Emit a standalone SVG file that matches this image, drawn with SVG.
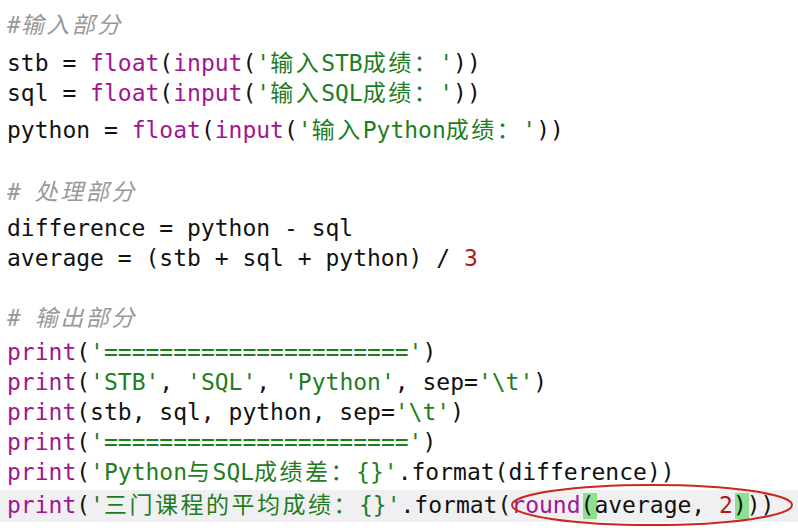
<svg xmlns="http://www.w3.org/2000/svg" width="798" height="530" viewBox="0 0 798 530">
<style>
text{font-family:"DejaVu Sans Mono","Noto Sans CJK SC",monospace;font-size:23px;fill:#111;white-space:pre}
.k{fill:#a0168f}.s{fill:#1e7d1e}.n{fill:#b01a1a}.c{fill:#999;font-style:italic}.z{letter-spacing:2.5px}
</style>
<rect width="798" height="530" fill="#fff"/>
<rect x="0" y="490" width="798" height="32" fill="#f0f0f3"/>
<rect x="583" y="493" width="14" height="26" fill="#8ee08e"/>
<rect x="735" y="493" width="14" height="26" fill="#8ee08e"/>
<g id="code" xml:space="preserve">
<text x="7" y="33" class="c">#<tspan class="z">输入部分</tspan></text>
<text x="7" y="71">stb = <tspan class="k">float</tspan>(<tspan class="k">input</tspan>(<tspan class="s">'<tspan class="z">输入</tspan>STB<tspan class="z">成绩：</tspan>'</tspan>))</text>
<text x="7" y="101">sql = <tspan class="k">float</tspan>(<tspan class="k">input</tspan>(<tspan class="s">'<tspan class="z">输入</tspan>SQL<tspan class="z">成绩：</tspan>'</tspan>))</text>
<text x="7" y="138">python = <tspan class="k">float</tspan>(<tspan class="k">input</tspan>(<tspan class="s">'<tspan class="z">输入</tspan>Python<tspan class="z">成绩：</tspan>'</tspan>))</text>
<text x="7" y="200" class="c"># <tspan class="z">处理部分</tspan></text>
<text x="7" y="236">difference = python - sql</text>
<text x="7" y="266">average = (stb + sql + python) / <tspan class="n">3</tspan></text>
<text x="7" y="326" class="c"># <tspan class="z">输出部分</tspan></text>
<text x="7" y="360"><tspan class="k">print</tspan>(<tspan class="s">'======================'</tspan>)</text>
<text x="7" y="390"><tspan class="k">print</tspan>(<tspan class="s">'STB'</tspan>, <tspan class="s">'SQL'</tspan>, <tspan class="s">'Python'</tspan>, sep=<tspan class="s">'\t'</tspan>)</text>
<text x="7" y="420"><tspan class="k">print</tspan>(stb, sql, python, sep=<tspan class="s">'\t'</tspan>)</text>
<text x="7" y="450"><tspan class="k">print</tspan>(<tspan class="s">'======================'</tspan>)</text>
<text x="7" y="480"><tspan class="k">print</tspan>(<tspan class="s">'Python<tspan class="z">与</tspan>SQL<tspan class="z">成绩差：</tspan>{}'</tspan>.format(difference))</text>
<text x="7" y="513"><tspan class="k">print</tspan>(<tspan class="s">'<tspan class="z">三门课程的平均成绩：</tspan>{}'</tspan>.format(<tspan class="k">round</tspan>(average, <tspan class="n">2</tspan>)))</text>
</g>
<ellipse cx="652" cy="505" rx="140" ry="20" fill="none" stroke="#c8281e" stroke-width="2"/>
</svg>
